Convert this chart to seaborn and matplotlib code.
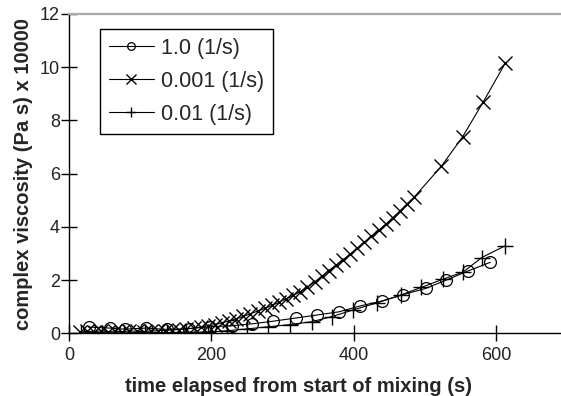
import matplotlib
matplotlib.use("Agg")
import matplotlib.pyplot as plt
import seaborn as sns
import pandas as pd

# 1.0 (1/s) series
t_fast = [28, 58, 78, 108, 138, 168, 198, 229, 257, 287, 319, 348, 379, 409,
          440, 470, 501, 530, 561, 592]
v_fast = [0.24, 0.20, 0.16, 0.20, 0.15, 0.18, 0.25, 0.29, 0.36, 0.46, 0.58,
          0.69, 0.81, 1.03, 1.22, 1.46, 1.69, 2.00, 2.35, 2.67]

# 0.001 (1/s) series
t_slow = [15, 25, 35, 45, 55, 65, 75, 85, 95, 105, 115, 125, 135, 145, 155,
          165, 175, 185, 195, 205, 215, 225, 235, 245, 255, 265, 275, 285,
          295, 305, 315, 325, 335, 345, 355, 365, 375, 385, 395, 405, 415,
          425, 435, 445, 455, 465, 475, 485, 523, 553, 582, 613]
v_slow = [0.05, 0.08, 0.06, 0.10, 0.07, 0.09, 0.06, 0.10, 0.08, 0.07, 0.09,
          0.10, 0.11, 0.13, 0.14, 0.17, 0.20, 0.24, 0.28, 0.33, 0.40, 0.47,
          0.55, 0.64, 0.74, 0.84, 0.94, 1.05, 1.17, 1.30, 1.43, 1.57, 1.74,
          1.93, 2.14, 2.36, 2.56, 2.76, 2.98, 3.20, 3.42, 3.64, 3.87, 4.10,
          4.35, 4.60, 4.87, 5.12, 6.27, 7.38, 8.69, 10.15]

# 0.01 (1/s) series
t_mid = [17, 47, 77, 107, 137, 165, 195, 222, 250, 280, 310, 341, 369, 399,
         433, 466, 495, 526, 554, 580, 612]
v_mid = [0.02, 0.03, 0.02, 0.04, 0.03, 0.04, 0.05, 0.10, 0.17, 0.25, 0.33,
         0.44, 0.63, 0.88, 1.15, 1.44, 1.73, 2.04, 2.31, 2.85, 3.28]

sns.set_style("ticks")
plt.rcParams['font.family'] = ['Liberation Sans', 'DejaVu Sans']

fig = plt.figure(figsize=(5.61, 3.96), dpi=100)
ax = fig.add_axes([0.123, 0.158, 0.888, 0.807])

df_fast = pd.DataFrame({'t': t_fast, 'v': v_fast})
df_slow = pd.DataFrame({'t': t_slow, 'v': v_slow})
df_mid = pd.DataFrame({'t': t_mid, 'v': v_mid})

sns.lineplot(data=df_fast, x='t', y='v', ax=ax, color='black', lw=0.8,
             marker='o', markersize=8.5, markerfacecolor='none',
             markeredgecolor='black', markeredgewidth=0.9, label='1.0 (1/s)')
sns.lineplot(data=df_slow, x='t', y='v', ax=ax, color='black', lw=0.8,
             marker='x', markersize=10.5, markeredgewidth=1.0,
             markeredgecolor='black', label='0.001 (1/s)')
sns.lineplot(data=df_mid, x='t', y='v', ax=ax, color='black', lw=0.8,
             marker='+', markersize=12, markeredgewidth=1.0,
             markeredgecolor='black', label='0.01 (1/s)')

ax.set_xlim(0, 700)
ax.set_ylim(0, 12)
ax.set_xticks([0, 200, 400, 600])
ax.set_yticks([0, 2, 4, 6, 8, 10, 12])
ax.tick_params(direction='inout', length=11, width=1, labelsize=13,
               colors='black', labelcolor='#222222')
ax.tick_params(axis='x', pad=4)
ax.tick_params(axis='y', pad=1)

for s in ['left', 'bottom']:
    ax.spines[s].set_color('black')
    ax.spines[s].set_linewidth(1)
ax.spines['top'].set_visible(True)
ax.spines['top'].set_color('#aaaaaa')
ax.spines['top'].set_linewidth(1.6)
ax.spines['right'].set_visible(False)

ax.set_xlabel('time elapsed from start of mixing (s)', fontsize=14.5,
              fontweight='bold')
ax.set_ylabel('complex viscosity (Pa s) x 10000', fontsize=14.5,
              fontweight='bold')
ax.xaxis.set_label_coords((298 - 69) / 498, -0.135)
ax.yaxis.set_label_coords(-0.072, 0.5)

leg = ax.legend(loc='upper left', bbox_to_anchor=(0.062, 0.953),
                borderaxespad=0, fontsize=15.5, fancybox=False,
                framealpha=1, edgecolor='black', handlelength=2.1,
                handletextpad=0.33, labelspacing=0.56, borderpad=0.41,
                markerscale=0.65)
leg.get_frame().set_linewidth(1.0)

fig.savefig('out.png', dpi=100)
